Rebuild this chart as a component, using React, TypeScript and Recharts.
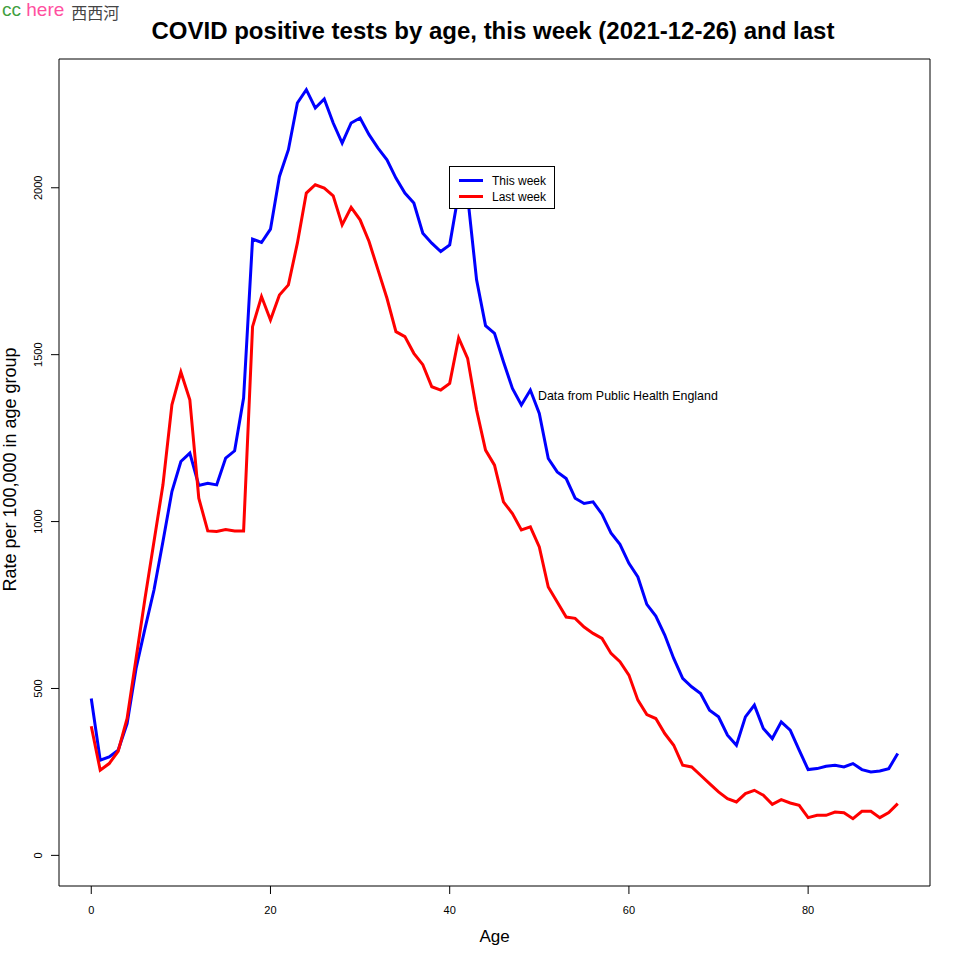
import { LineChart, Line, XAxis, YAxis, Legend, ReferenceArea, ReferenceDot } from "recharts";

const ages = [
  0, 1, 2, 3, 4, 5, 6, 7, 8, 9, 10, 11, 12, 13, 14, 15, 16, 17, 18, 19,
  20, 21, 22, 23, 24, 25, 26, 27, 28, 29, 30, 31, 32, 33, 34, 35, 36, 37, 38, 39,
  40, 41, 42, 43, 44, 45, 46, 47, 48, 49, 50, 51, 52, 53, 54, 55, 56, 57, 58, 59,
  60, 61, 62, 63, 64, 65, 66, 67, 68, 69, 70, 71, 72, 73, 74, 75, 76, 77, 78, 79,
  80, 81, 82, 83, 84, 85, 86, 87, 88, 89, 90,
];

// rate per 100,000
const thisWeek = [
  470, 285, 295, 315, 395, 560, 680, 795, 940, 1090, 1180, 1205, 1108, 1115, 1110, 1190, 1212, 1370, 1846, 1836,
  1876, 2034, 2114, 2254, 2294, 2239, 2266, 2194, 2134, 2194, 2209, 2159, 2119, 2084, 2029, 1984, 1954, 1864, 1834, 1809,
  1829, 1985, 1975, 1724, 1587, 1564, 1479, 1399, 1349, 1394, 1324, 1189, 1149, 1129, 1070, 1054, 1059, 1022, 966, 932,
  875, 834, 752, 717, 660, 590, 530, 505, 485, 435, 415, 360, 330, 415, 450, 380, 350, 400, 375, 315,
  257, 260, 267, 270, 265, 275, 257, 250, 253, 260, 305,
];

const lastWeek = [
  387, 255, 275, 312, 410, 590, 770, 940, 1110, 1350, 1448, 1365, 1070, 972, 970, 976, 972, 972, 1584, 1674,
  1604, 1679, 1709, 1834, 1984, 2009, 1999, 1976, 1889, 1941, 1904, 1839, 1754, 1669, 1569, 1554, 1504, 1470, 1404, 1394,
  1414, 1550, 1489, 1334, 1214, 1169, 1059, 1024, 975, 984, 924, 804, 759, 714, 710, 684, 665, 650, 605, 580,
  540, 465, 422, 410, 365, 330, 270, 265, 240, 215, 190, 170, 160, 185, 195, 180, 153, 167, 157, 150,
  113, 120, 120, 130, 128, 110, 132, 132, 113, 128, 155,
];

const xTicks = [0, 20, 40, 60, 80];
const yTicks = [0, 500, 1000, 1500, 2000];

const series = [
  { key: "thisWeek", name: "This week", color: "#0000ff" },
  { key: "lastWeek", name: "Last week", color: "#ff0000" },
];

const FONT = '"Liberation Sans", Arial, sans-serif';

const data = ages.map((age, i) => ({ age, thisWeek: thisWeek[i], lastWeek: lastWeek[i] }));

// base R pads each axis by 4% of the range (y range starts at 0)
const xMax = Math.max(...ages);
const xDomain: [number, number] = [-0.04 * xMax, xMax * 1.04];
const yMax = Math.max(...thisWeek, ...lastWeek);
const yDomain: [number, number] = [-0.04 * yMax, yMax * 1.04];

function XTick({ x, y, payload }: any) {
  return (
    <text x={x} y={y + 14} textAnchor="middle" dominantBaseline="central" fontSize={11} fontFamily={FONT} fill="#000">
      {payload.value}
    </text>
  );
}

function YTick({ x, y, payload }: any) {
  const tx = x - 11;
  return (
    <text
      x={tx}
      y={y}
      transform={`rotate(-90, ${tx}, ${y})`}
      textAnchor="middle"
      dominantBaseline="central"
      fontSize={11}
      fontFamily={FONT}
      fill="#000"
    >
      {payload.value}
    </text>
  );
}

function XLabel({ viewBox }: any) {
  const cx = viewBox.x + viewBox.width / 2;
  return (
    <text x={cx} y={936} textAnchor="middle" dominantBaseline="central" fontSize={17} fontFamily={FONT} fill="#000">
      Age
    </text>
  );
}

function YLabel({ viewBox }: any) {
  const cy = viewBox.y + viewBox.height / 2 - 3;
  return (
    <text
      x={10}
      y={cy}
      transform={`rotate(-90, 10, ${cy})`}
      textAnchor="middle"
      dominantBaseline="central"
      fontSize={18}
      fontFamily={FONT}
      fill="#000"
    >
      Rate per 100,000 in age group
    </text>
  );
}

function LegendBox() {
  return (
    <div
      style={{
        position: "relative",
        width: 106,
        height: 43,
        boxSizing: "border-box",
        border: "1px solid #000",
        background: "#fff",
        fontFamily: FONT,
        fontSize: 12,
      }}
    >
      {series.map((s, i) => (
        <div key={s.key} style={{ position: "absolute", left: 0, top: 6 + i * 16, height: 16, width: "100%" }}>
          <div style={{ position: "absolute", left: 9, top: 6, width: 24, height: 3, background: s.color }} />
          <span style={{ position: "absolute", left: 42, top: 0, lineHeight: "16px", color: "#000" }}>{s.name}</span>
        </div>
      ))}
    </div>
  );
}

export default function App() {
  return (
    <div style={{ position: "absolute", left: 0, top: 0, width: 960, height: 960, background: "#fff" }}>
      <div style={{ position: "absolute", left: 2, top: 0, lineHeight: "19px", whiteSpace: "nowrap", zIndex: 2 }}>
        <span style={{ fontFamily: FONT, fontSize: 19, color: "#3f9f3f" }}>cc </span>
        <span style={{ fontFamily: FONT, fontSize: 19, color: "#ff4f9f" }}>here</span>
        <span
          style={{
            position: "relative",
            top: 3,
            fontFamily: '"Noto Sans CJK SC", sans-serif',
            fontSize: 16,
            color: "#444",
            marginLeft: 7,
          }}
        >
          西西河
        </span>
      </div>
      <div
        style={{
          position: "absolute",
          left: 0,
          top: 17,
          width: 986,
          textAlign: "center",
          fontFamily: FONT,
          fontWeight: "bold",
          fontSize: 24,
          lineHeight: "28px",
          color: "#000",
          zIndex: 2,
        }}
      >
        COVID positive tests by age, this week (2021-12-26) and last
      </div>
      <LineChart width={960} height={960} data={data} margin={{ top: 59, right: 30, bottom: 0, left: 0 }}>
        <XAxis
          dataKey="age"
          type="number"
          domain={xDomain}
          ticks={xTicks}
          height={74}
          axisLine={false}
          tickLine={{ stroke: "#000" }}
          tickSize={8}
          tick={<XTick />}
          label={<XLabel />}
          allowDataOverflow
        />
        <YAxis
          type="number"
          domain={yDomain}
          ticks={yTicks}
          width={59}
          axisLine={false}
          tickLine={{ stroke: "#000" }}
          tickSize={8}
          tick={<YTick />}
          label={<YLabel />}
          allowDataOverflow
        />
        <ReferenceArea
          x1={xDomain[0]}
          x2={xDomain[1]}
          y1={yDomain[0]}
          y2={yDomain[1]}
          fill="none"
          fillOpacity={0}
          stroke="#000"
          strokeWidth={1}
        />
        {series.map((s) => (
          <Line
            key={s.key}
            type="linear"
            dataKey={s.key}
            name={s.name}
            stroke={s.color}
            strokeWidth={3}
            dot={false}
            activeDot={false}
            isAnimationActive={false}
          />
        ))}
        <ReferenceDot
          x={49.3}
          y={1376}
          r={0}
          fill="none"
          stroke="none"
          label={{
            value: "Data from Public Health England",
            position: "right",
            offset: 5,
            fontSize: 12.4,
            fontFamily: FONT,
            fill: "#000",
          }}
        />
        <Legend
          layout="horizontal"
          verticalAlign="middle"
          align="center"
          content={<LegendBox />}
          wrapperStyle={{ left: 449, top: 166, width: 106, height: 43 }}
        />
      </LineChart>
    </div>
  );
}
